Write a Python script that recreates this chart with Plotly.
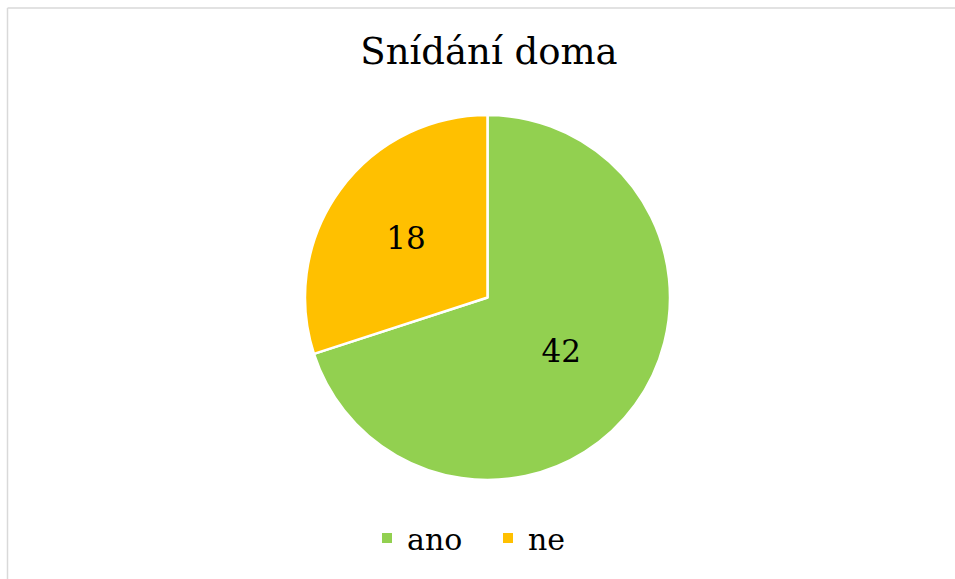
import plotly.graph_objects as go

labels = ["ano", "ne"]
values = [42, 18]
colors = ["#92D050", "#FFC000"]
title_text = "Snídání doma"

W, H = 955, 579
cx, cy, r = 487.5, 297.5, 182.5
SERIF = "DejaVu Serif"

fig = go.Figure(go.Pie(
    labels=labels,
    values=values,
    marker=dict(colors=colors, line=dict(color="white", width=2.5)),
    sort=False,
    direction="clockwise",
    rotation=0,
    textinfo="value",
    textposition="inside",
    insidetextorientation="horizontal",
    textfont=dict(family=SERIF, size=31, color="black"),
    domain=dict(x=[(cx - r) / W, (cx + r) / W], y=[1 - (cy + r) / H, 1 - (cy - r) / H]),
))

fig.update_layout(
    width=W, height=H,
    margin=dict(l=0, r=0, t=0, b=0),
    paper_bgcolor="white",
    plot_bgcolor="white",
    title=dict(text=title_text, x=489 / W, xanchor="center", y=1 - 51 / H, yanchor="middle",
               font=dict(family=SERIF, size=37, color="black")),
    showlegend=True,
    legend=dict(orientation="h", x=488 / W, xanchor="center", y=1 - 538 / H, yanchor="middle",
                font=dict(family=SERIF, size=30, color="black"),
                entrywidth=76, entrywidthmode="pixels",
                itemsizing="constant", traceorder="normal"),
    shapes=[
        dict(type="line", xref="paper", yref="paper", x0=7.5 / W, x1=7.5 / W, y0=0, y1=1 - 8 / H,
             line=dict(color="#D9D9D9", width=1.5), layer="below"),
        dict(type="line", xref="paper", yref="paper", x0=7.5 / W, x1=1, y0=1 - 8 / H, y1=1 - 8 / H,
             line=dict(color="#D9D9D9", width=1.5), layer="below"),
    ],
)

fig.write_html("out.html", config={"displayModeBar": False},
               post_script="document.body.style.margin='0';document.body.style.overflow='hidden';")
